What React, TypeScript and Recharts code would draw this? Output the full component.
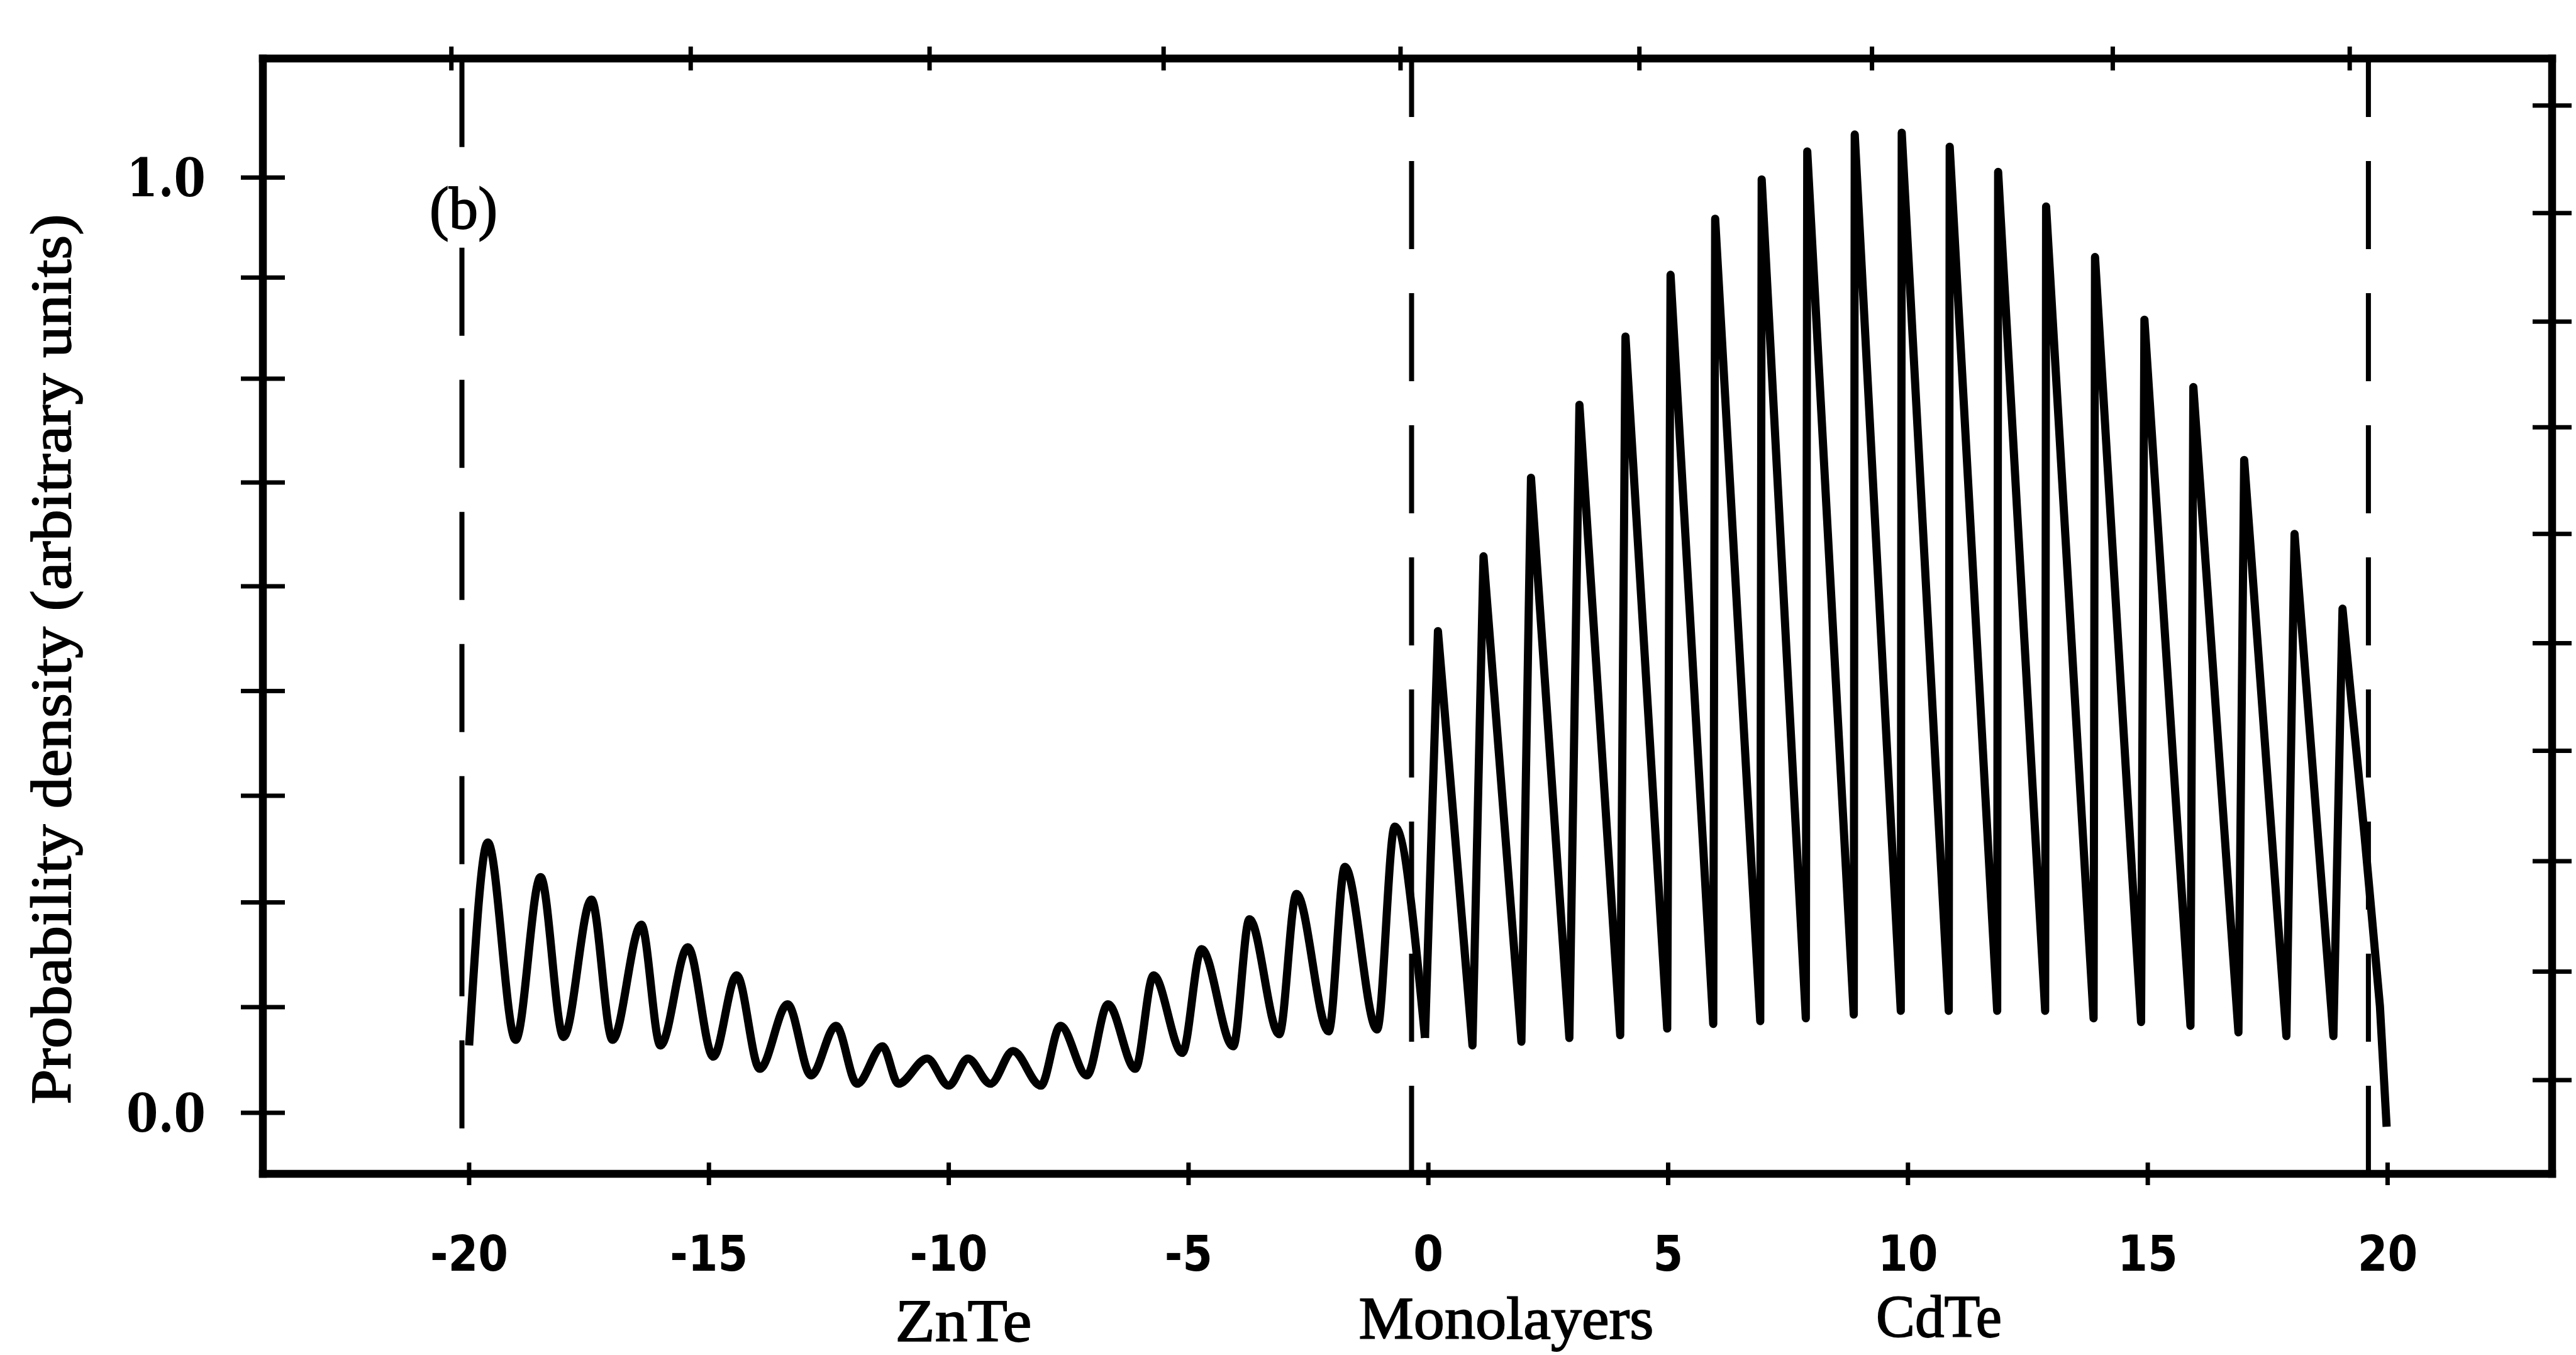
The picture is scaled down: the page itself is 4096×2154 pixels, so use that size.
import React from 'react';
import { LineChart, Line, XAxis, YAxis, ReferenceLine } from 'recharts';

// ZnTe side: small oscillations (monolayer position, density)
const znteX = [-20.0, -19.61, -19.03, -18.51, -18.03, -17.45, -17.01, -16.41, -16.01, -15.44, -14.91, -14.42, -13.94, -13.36, -12.87, -12.35, -11.91, -11.38, -11.05, -10.45, -10.0, -9.6, -9.13, -8.66, -8.08, -7.67, -7.12, -6.68, -6.11, -5.73, -5.13, -4.73, -4.07, -3.73, -3.11, -2.75, -2.08, -1.74, -1.07, -0.7, -0.07];
const znteY = [0.072, 0.289, 0.078, 0.252, 0.081, 0.228, 0.078, 0.201, 0.072, 0.177, 0.06, 0.147, 0.047, 0.116, 0.04, 0.093, 0.031, 0.071, 0.031, 0.058, 0.029, 0.058, 0.031, 0.066, 0.029, 0.093, 0.04, 0.116, 0.047, 0.147, 0.064, 0.175, 0.071, 0.207, 0.084, 0.234, 0.087, 0.263, 0.089, 0.306, 0.08];

// CdTe side: sawtooth peaks (steep rise, slow fall)
const cdteX = [-0.07, 0.2, 0.92, 1.15, 1.94, 2.14, 2.94, 3.15, 4.0, 4.11, 4.98, 5.05, 5.94, 5.98, 6.92, 6.95, 7.87, 7.9, 8.87, 8.89, 9.85, 9.87, 10.85, 10.87, 11.86, 11.88, 12.86, 12.88, 13.87, 13.9, 14.86, 14.93, 15.89, 15.95, 16.89, 17.01, 17.89, 18.06, 18.87, 19.06, 19.52, 19.84, 19.98];
const cdteY = [0.08, 0.515, 0.072, 0.595, 0.076, 0.679, 0.08, 0.757, 0.083, 0.83, 0.09, 0.896, 0.095, 0.956, 0.098, 0.998, 0.101, 1.028, 0.105, 1.046, 0.109, 1.048, 0.109, 1.033, 0.109, 1.006, 0.109, 0.969, 0.101, 0.915, 0.097, 0.848, 0.093, 0.776, 0.086, 0.698, 0.082, 0.619, 0.082, 0.539, 0.296, 0.114, -0.015];

const bottomTicks = [-20, -15, -10, -5, 0, 5, 10, 15, 20];
const topTicks = [-20.37, -15.38, -10.4, -5.52, -0.58, 4.4, 9.25, 14.27, 19.21];
const leftTicks = [0, 0.113, 0.225, 0.339, 0.451, 0.563, 0.674, 0.785, 0.893, 1.0];
const rightTicks = [0.035, 0.151, 0.269, 0.387, 0.502, 0.619, 0.733, 0.846, 0.962, 1.077];
const yTickLabels: Record<string, string> = { '0': '0.0', '1': '1.0' };
const boundaryX = [-20.15, -0.35, 19.6];

const X_DOMAIN: [number, number] = [-24.3, 23.43];
const Y_DOMAIN: [number, number] = [-0.0653, 1.1273];
// the (b) tag sits in a gap of the first dashed line
const tagGap = [0.925, 1.008];

const znteData = znteX.map((x, i) => ({ x, y: znteY[i] }));
const cdteData = cdteX.map((x, i) => ({ x, y: cdteY[i] }));

const W = 4096;
const H = 2154;
const LEFT = 418;
const RIGHT = 4058;
const TOP = 93;
const BOTTOM = 1866;

const SERIF = 'Liberation Serif, Times New Roman, serif';
const frame = { stroke: '#000', strokeWidth: 12.5, strokeLinecap: 'square' as const };
const dash = { stroke: '#000', strokeWidth: 8, strokeDasharray: '140 70' };
// scanned print is heavy, thicken serif glyphs a little
const ink = { fill: '#000', stroke: '#000', strokeWidth: 1.8 };

const BottomTick = (props: any) => {
  const { x, payload } = props;
  return (
    <g>
      <line x1={x} x2={x} y1={BOTTOM - 18} y2={BOTTOM + 18} stroke="#000" strokeWidth={7} />
      <text
        transform={`translate(${x} ${BOTTOM + 154}) scale(0.88 1)`}
        textAnchor="middle"
        fontFamily="DejaVu Sans"
        fontWeight="bold"
        fontSize={78}
        fill="#000"
      >
        {String(payload.value)}
      </text>
    </g>
  );
};

const TopTick = (props: any) => (
  <line x1={props.x} x2={props.x} y1={TOP - 19} y2={TOP + 19} stroke="#000" strokeWidth={7} />
);

const LeftTick = (props: any) => {
  const { y, payload } = props;
  const label = yTickLabels[String(payload.value)];
  return (
    <g>
      <line x1={LEFT - 35} x2={LEFT + 35} y1={y} y2={y} stroke="#000" strokeWidth={7} />
      {label && (
        <text
          x={LEFT - 91}
          y={y + 30}
          textAnchor="end"
          fontFamily="DejaVu Serif"
          fontWeight="bold"
          fontSize={84}
          textLength={126}
          lengthAdjust="spacingAndGlyphs"
          fill="#000"
        >
          {label}
        </text>
      )}
    </g>
  );
};

const RightTick = (props: any) => (
  <line x1={RIGHT - 31} x2={RIGHT + 31} y1={props.y} y2={props.y} stroke="#000" strokeWidth={7} />
);

export default function App() {
  const yTop = Y_DOMAIN[1] - 0.0005;
  const yBot = Y_DOMAIN[0] + 0.0005;
  return (
    <div style={{ position: 'fixed', left: 0, top: 0, width: W, height: H, background: '#fff' }}>
      <LineChart width={W} height={H} margin={{ top: 0, right: 0, bottom: 0, left: 0 }}>
        <XAxis
          type="number"
          dataKey="x"
          domain={X_DOMAIN}
          allowDataOverflow
          ticks={bottomTicks}
          interval={0}
          height={H - BOTTOM}
          tickLine={false}
          tickSize={0}
          tick={BottomTick}
          axisLine={frame}
        />
        <XAxis
          xAxisId="top"
          orientation="top"
          type="number"
          dataKey="x"
          domain={X_DOMAIN}
          allowDataOverflow
          ticks={topTicks}
          interval={0}
          height={TOP}
          tickLine={false}
          tickSize={0}
          tick={TopTick}
          axisLine={frame}
        />
        <YAxis
          type="number"
          domain={Y_DOMAIN}
          allowDataOverflow
          ticks={leftTicks}
          interval={0}
          width={LEFT}
          tickLine={false}
          tickSize={0}
          tick={LeftTick}
          axisLine={frame}
        />
        <YAxis
          yAxisId="right"
          orientation="right"
          type="number"
          domain={Y_DOMAIN}
          allowDataOverflow
          ticks={rightTicks}
          interval={0}
          width={W - RIGHT}
          tickLine={false}
          tickSize={0}
          tick={RightTick}
          axisLine={frame}
        />
        <ReferenceLine
          segment={[{ x: boundaryX[0], y: yTop }, { x: boundaryX[0], y: tagGap[1] }]}
          {...dash}
        />
        <ReferenceLine
          segment={[{ x: boundaryX[0], y: tagGap[0] }, { x: boundaryX[0], y: yBot }]}
          {...dash}
        />
        {boundaryX.slice(1).map((v) => (
          <ReferenceLine key={v} x={v} {...dash} />
        ))}
        <Line
          data={znteData}
          dataKey="y"
          type="monotone"
          stroke="#000"
          strokeWidth={13}
          dot={false}
          isAnimationActive={false}
        />
        <Line
          data={cdteData}
          dataKey="y"
          type="linear"
          stroke="#000"
          strokeWidth={13}
          strokeLinejoin="round"
          dot={false}
          isAnimationActive={false}
        />
        <text
          x={112}
          y={1048}
          transform="rotate(-90 112 1048)"
          textAnchor="middle"
          fontFamily={SERIF}
          fontSize={92}
          textLength={1415}
          lengthAdjust="spacingAndGlyphs"
          {...ink}
        >
          Probability density (arbitrary units)
        </text>
        <text x={683} y={363} fontFamily={SERIF} fontSize={95} textLength={108} lengthAdjust="spacingAndGlyphs" {...ink}>
          (b)
        </text>
        <text x={1532} y={2132} textAnchor="middle" fontFamily={SERIF} fontSize={96} textLength={217} lengthAdjust="spacingAndGlyphs" {...ink}>
          ZnTe
        </text>
        <text x={2395} y={2128} textAnchor="middle" fontFamily={SERIF} fontSize={96} textLength={469} lengthAdjust="spacingAndGlyphs" {...ink}>
          Monolayers
        </text>
        <text x={3083} y={2125} textAnchor="middle" fontFamily={SERIF} fontSize={96} textLength={200} lengthAdjust="spacingAndGlyphs" {...ink}>
          CdTe
        </text>
      </LineChart>
    </div>
  );
}
